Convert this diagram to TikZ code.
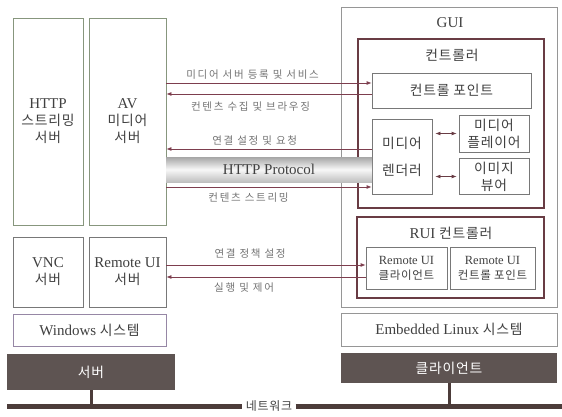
\documentclass[tikz,border=0pt]{standalone}
\usepackage{fontspec}
\setmainfont{Liberation Serif}
\newfontfamily\kr[Scale=0.92,LetterSpace=6]{Noto Sans CJK KR}
\newfontfamily\krs[LetterSpace=16]{Noto Sans CJK KR}
\usepackage{tikz}
\usetikzlibrary{arrows.meta}
\definecolor{arrowred}{RGB}{125,62,78}
\definecolor{thickred}{RGB}{105,60,68}
\definecolor{greenbox}{RGB}{135,150,125}
\definecolor{greybox}{RGB}{120,120,120}
\definecolor{purplebox}{RGB}{150,135,165}
\definecolor{lightbox}{RGB}{150,150,150}
\definecolor{darkbox}{RGB}{94,84,82}
\definecolor{netcolor}{RGB}{76,60,58}
\tikzstyle{block} = [draw=greybox, line width=0.8pt, align=center,
	text=black!75, font=\fontsize{15}{17}\selectfont]
\tikzstyle{thickblock} = [draw=thickred, line width=1.8pt]
\tikzstyle{dark} = [fill=darkbox, draw=none, text=white!85,
	font=\fontsize{15}{17}\selectfont\kr]
\tikzstyle{arrow} = [-{Latex[length=5pt,width=4pt]}, draw=arrowred, line width=0.8pt]
\tikzstyle{darrow} = [{Latex[length=5pt,width=4pt]}-{Latex[length=5pt,width=4pt]},
	draw=thickred, line width=0.8pt, shorten <=3pt, shorten >=2pt]
\tikzstyle{lbl} = [font=\fontsize{10.5}{12}\selectfont\krs, text=black!55]
\tikzstyle{band} = [top color=black!35, bottom color=black!25, middle color=black!3,
	text=black!75, font=\fontsize{15}{17}\selectfont]
\tikzstyle{netbar} = [line width=5pt, draw=netcolor]

\begin{document}
\begin{tikzpicture}[x=1pt, y=-1pt]
	\useasboundingbox (0,0) rectangle (562,417);

	\node (httpsrv) [block, draw=greenbox, minimum width=70, minimum height=207] at (48,121.5)
		{HTTP\\{\kr 스트리밍}\\{\kr 서버}};
	\node (avsrv) [block, draw=greenbox, minimum width=77, minimum height=207] at (127.5,121.5)
		{AV\\{\kr 미디어}\\{\kr 서버}};
	\node (vnc) [block, minimum width=70, minimum height=70] at (48,272)
		{VNC\\{\kr 서버}};
	\node (rsrv) [block, minimum width=77, minimum height=70] at (127.5,272)
		{Remote UI\\{\kr 서버}};
	\node (win) [block, draw=purplebox, minimum width=153, minimum height=32] at (89.5,330)
		{Windows {\kr 시스템}};
	\node (server) [dark, minimum width=168, minimum height=36] at (91,372) {서버};

	\node (gui) [block, draw=lightbox, minimum width=216, minimum height=300] at (449,157) {};
	\node (guit) [block, draw=none] at (450,23) {GUI};
	\node (ctrl) [thickblock, minimum width=186, minimum height=169] at (451,123.5) {};
	\node (ctrlt) [block, draw=none] at (452,55) {\kr 컨트롤러};
	\node (cp) [block, minimum width=159, minimum height=35] at (451.5,90.5) {\kr 컨트롤 포인트};
	\node (rend) [block, minimum width=60, minimum height=75] at (402,156.5)
		{{\kr 미디어}\\[10pt]{\kr 렌더러}};
	\node (player) [block, minimum width=70, minimum height=37] at (494,133.5)
		{\kr 미디어\\\kr 플레이어};
	\node (viewer) [block, minimum width=70, minimum height=35] at (494,176.5)
		{\kr 이미지\\\kr 뷰어};
	\draw [darrow] (rend.east |- player) -- (player.west);
	\draw [darrow] (rend.east |- viewer) -- (viewer.west);

	\node (rui) [thickblock, minimum width=187, minimum height=81] at (450.5,257.5) {};
	\node (ruit) [block, draw=none] at (451,233) {RUI {\kr 컨트롤러}};
	\node (rclient) [block, minimum width=81, minimum height=42, font=\fontsize{12.5}{15}\selectfont]
		at (406.5,268) {Remote UI\\{\kr 클라이언트}};
	\node (rcp) [block, minimum width=85, minimum height=42, font=\fontsize{12.5}{15}\selectfont]
		at (492.5,268) {Remote UI\\{\kr 컨트롤 포인트}};
	\node (emb) [block, draw=lightbox, minimum width=216, minimum height=33] at (449,329.5)
		{Embedded Linux {\kr 시스템}};
	\node (client) [dark, minimum width=216, minimum height=30] at (449,368) {클라이언트};

	\draw [arrow] (avsrv.east |- 0,83) -- (cp.west |- 0,83)
		node [lbl, pos=0.42, above] {미디어 서버 등록 및 서비스};
	\draw [arrow] (cp.west |- 0,94) -- (avsrv.east |- 0,94)
		node [lbl, pos=0.59, below=4pt] {컨텐츠 수집 및 브라우징};
	\draw [arrow] (rend.west |- 0,149) -- (avsrv.east |- 0,149)
		node [lbl, pos=0.57, above] {연결 설정 및 요청};
	\draw [arrow] (avsrv.east |- 0,187) -- (rend.west |- 0,187)
		node [lbl, pos=0.40, below=2pt] {컨텐츠 스트리밍};
	\node (proto) [band, minimum width=206, minimum height=25] at (269,169.5) {HTTP Protocol};

	\draw [arrow] (rsrv.east |- 0,265) -- (rclient.west |- 0,265)
		node [lbl, pos=0.42, above=3pt] {연결 정책 설정};
	\draw [arrow] (rclient.west |- 0,277) -- (rsrv.east |- 0,277)
		node [lbl, pos=0.61, below=2pt] {실행 및 제어};

	\node (net) [text=black!75, font=\fontsize{13}{15}\selectfont\kr] at (269,406) {네트워크};
	\coordinate (netl) at (7,406);
	\coordinate (netr) at (562,406);
	\draw [netbar] (netl) -- (net.west);
	\draw [netbar] (net.east) -- (netr);
	\draw [netbar, line width=3pt] (server.south) -- (server.south |- net);
	\draw [netbar, line width=3pt] (client.south) -- (client.south |- net);
\end{tikzpicture}
\end{document}
